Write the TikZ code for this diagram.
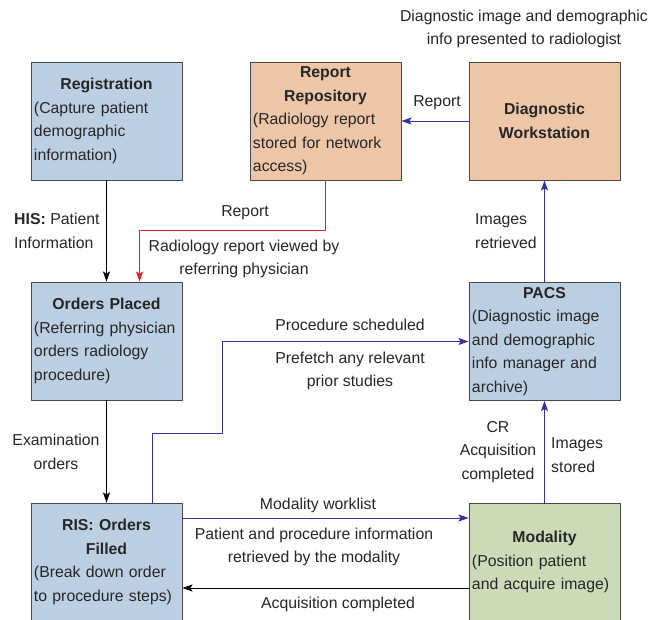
\documentclass[tikz,border=0pt]{standalone}
\usepackage{fontspec}
\setmainfont{Liberation Sans}
\usetikzlibrary{arrows.meta,calc}
\definecolor{boxblue}{RGB}{188,207,226}
\definecolor{boxorange}{RGB}{237,198,168}
\definecolor{boxgreen}{RGB}{205,218,183}
\definecolor{boxline}{RGB}{72,72,72}
\definecolor{arrowblue}{RGB}{52,52,150}
\definecolor{arrowred}{RGB}{228,30,36}
\definecolor{txt}{RGB}{38,38,38}

\begin{document}
\begin{tikzpicture}[line cap=round,line join=round,>={Stealth[length=0.3cm,width=0.21cm,inset=0.06cm]},x=0.03cm,y=-0.03cm,
  box/.style={draw=boxline,line width=0.8pt,minimum width=4.53cm,minimum height=3.54cm,
    text width=4.35cm,inner xsep=0.09cm,inner ysep=0.06cm,align=left,
    font=\fontsize{13.5}{20}\selectfont,text=txt},
  lbl/.style={font=\fontsize{13.5}{20}\selectfont,text=txt,inner sep=0pt},
  blackline/.style={->,draw=black,line width=0.8pt},
  blueline/.style={->,draw=arrowblue,line width=0.8pt},
  redline/.style={->,draw=arrowred,line width=0.8pt}]
\useasboundingbox (0,0) rectangle (659,620);
\clip (0,0) rectangle (659,620);
% boxes
\node[box,fill=boxblue] (reg) at (106.5,121) {\hspace*{\fill}\textbf{Registration}\hspace*{\fill}\mbox{}\\(Capture patient\\demographic\\information)};
\node[box,fill=boxorange] (repo) at (325.5,121) {\hspace*{\fill}\textbf{Report}\hspace*{\fill}\mbox{}\\\hspace*{\fill}\textbf{Repository}\hspace*{\fill}\mbox{}\\(Radiology report\\stored for network\\access)};
\node[box,fill=boxorange,align=center] (dws) at (544.5,121) {\textbf{Diagnostic}\\\textbf{Workstation}};
\node[box,fill=boxblue] (ord) at (106.5,341) {\hspace*{\fill}\textbf{Orders Placed}\hspace*{\fill}\mbox{}\\(Referring physician\\orders radiology\\procedure)};
\node[box,fill=boxblue] (pacs) at (544.5,341.5) {\hspace*{\fill}\textbf{PACS}\hspace*{\fill}\mbox{}\\(Diagnostic image\\and demographic\\info manager and\\archive)};
\node[box,fill=boxblue] (ris) at (106.5,562) {\hspace*{\fill}\textbf{RIS: Orders}\hspace*{\fill}\mbox{}\\\hspace*{\fill}\textbf{Filled}\hspace*{\fill}\mbox{}\\(Break down order\\to procedure steps)};
\node[box,fill=boxgreen] (mod) at (544.5,562) {\hspace*{\fill}\textbf{Modality}\hspace*{\fill}\mbox{}\\(Position patient\\and acquire image)};
% connectors
\draw[blackline] (reg) -- (ord);
\draw[redline] (repo.south) -- ++(0,50) -| ($(ord.north west)+(109,0)$);
\draw[blueline] (dws) -- (repo);
\draw[blueline] (pacs) -- (dws);
\draw[blackline] (ord) -- (ris);
\draw[blueline] ($(ris.north west)+(122,0)$) -- ++(0,-69) -- ++(70,0) |- (pacs.west);
\draw[blueline] ($(ris.east)+(0,-44)$) -- ($(mod.west)+(0,-44)$);
\draw[blackline] ($(mod.west)+(0,26)$) -- ($(ris.east)+(0,26)$);
\draw[blueline] (mod) -- (pacs);
% labels
\node[lbl,align=center] (present) at (524,29) {Diagnostic image and demographic\\info presented to radiologist};
\node[lbl] (rep2) at (437,103) {Report};
\node[lbl,align=left,anchor=west] (his) at (14,231) {\textbf{HIS:} Patient\\Information};
\node[lbl] (rep1) at (245,213) {Report};
\node[lbl,align=center] (viewed) at (244,259) {Radiology report viewed by\\referring physician};
\node[lbl,align=left,anchor=west] (retr) at (475,231) {Images\\retrieved};
\node[lbl] (sched) at (350,325) {Procedure scheduled};
\node[lbl,align=center] (prefetch) at (350,371) {Prefetch any relevant\\prior studies};
\node[lbl,align=center] (exam) at (56,452) {Examination\\orders};
\node[lbl,align=center] (cr) at (498,452) {CR\\Acquisition\\completed};
\node[lbl,align=left,anchor=west] (stored) at (551,455) {Images\\stored};
\node[lbl] (wl) at (318,505) {Modality worklist};
\node[lbl,align=center] (ppinfo) at (314,547) {Patient and procedure information\\retrieved by the modality};
\node[lbl] (acq) at (338,604) {Acquisition completed};
\end{tikzpicture}
\end{document}
